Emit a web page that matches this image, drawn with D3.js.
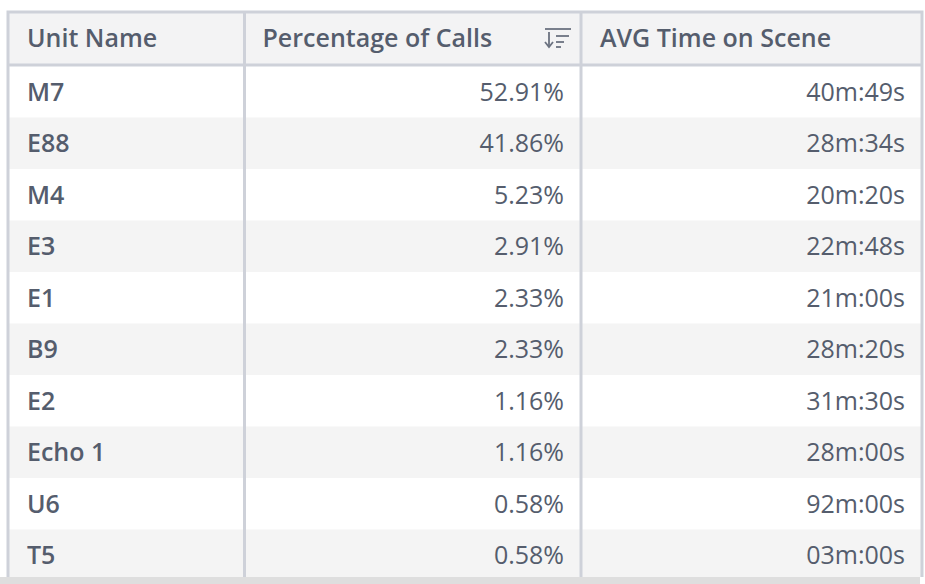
<!DOCTYPE html>
<html><head><meta charset="utf-8">
<script src="https://cdn.jsdelivr.net/npm/d3@7"></script>
<style>html,body{margin:0;padding:0;background:#fff;overflow:hidden}</style>
</head><body>
<svg id="c" width="925" height="584"></svg>
<script>
const headers = ["Unit Name", "Percentage of Calls", "AVG Time on Scene"];
const units = ["M7","E88","M4","E3","E1","B9","E2","Echo 1","U6","T5"];
const pctCalls = [52.91,41.86,5.23,2.91,2.33,2.33,1.16,1.16,0.58,0.58];
const avgTime = ["40m:49s","28m:34s","20m:20s","22m:48s","21m:00s","28m:20s","31m:30s","28m:00s","92m:00s","03m:00s"];

const svg = d3.select("#c");
const font = "'Open Sans', sans-serif";
const txt = "#555d6d";
const border = "#ced1d9";
const colX = d3.scaleOrdinal().domain([0,1,2,3]).range([8, 244.5, 581, 922]);
const tableTop = 12, headBottom = 65;
const y = d3.scaleBand().domain(d3.range(units.length)).range([headBottom + 1, headBottom + 1 + 51.5 * units.length]);

svg.append("defs").append("clipPath").attr("id","clip")
  .append("rect").attr("x",0).attr("y",0).attr("width",925).attr("height",577);
const g = svg.append("g").attr("clip-path","url(#clip)");

// header bg
g.append("rect").attr("x", colX(0)).attr("y", tableTop).attr("width", colX(3)-colX(0)).attr("height", headBottom-tableTop).attr("fill","#f3f3f4");
// row backgrounds
g.selectAll("rect.row").data(units).join("rect").attr("class","row")
  .attr("x", colX(0)).attr("y", (d,i)=>y(i)).attr("width", colX(3)-colX(0)).attr("height", y.bandwidth())
  .attr("fill", (d,i)=> i%2 ? "#f4f4f4" : "#ffffff");

// header texts
const hx = [colX(0)+19, colX(1)+18, colX(2)+19];
g.selectAll("text.h").data(headers).join("text").attr("class","h")
  .attr("x",(d,i)=>hx[i]).attr("y",(tableTop+headBottom)/2).attr("dy","0.35em")
  .attr("font-family",font).attr("font-weight",600).attr("font-size",25).attr("fill",txt).text(d=>d);

// sort icon
const ic = g.append("g").attr("transform","translate(545,29)").attr("stroke","#6b7280").attr("fill","none").attr("stroke-width",1.8);
ic.append("line").attr("x1",0).attr("y1",0).attr("x2",26).attr("y2",0);
ic.append("line").attr("x1",4).attr("y1",3).attr("x2",4).attr("y2",17);
ic.append("path").attr("d","M0,13 L4,18 L8,13");
ic.append("line").attr("x1",11).attr("y1",7).attr("x2",24).attr("y2",7);
ic.append("line").attr("x1",11).attr("y1",13).attr("x2",19).attr("y2",13);
ic.append("line").attr("x1",11).attr("y1",18).attr("x2",16).attr("y2",18);

// cells
const cy = i => y(i) + y.bandwidth()/2;
g.selectAll("text.u").data(units).join("text").attr("class","u")
  .attr("x", colX(0)+19).attr("y",(d,i)=>cy(i)).attr("dy","0.35em")
  .attr("font-family",font).attr("font-weight",600).attr("font-size",25).attr("fill",txt).text(d=>d);
g.selectAll("text.p").data(pctCalls).join("text").attr("class","p")
  .attr("x", colX(2)-17).attr("y",(d,i)=>cy(i)).attr("dy","0.35em").attr("text-anchor","end")
  .attr("font-family",font).attr("font-size",25).attr("fill",txt).text(d=>d3.format(".2f")(d)+"%");
g.selectAll("text.t").data(avgTime).join("text").attr("class","t")
  .attr("x", colX(3)-17).attr("y",(d,i)=>cy(i)).attr("dy","0.35em").attr("text-anchor","end")
  .attr("font-family",font).attr("font-size",25).attr("fill",txt).text(d=>d);

// borders
const bottom = y.range()[1];
g.append("rect").attr("x",colX(0)).attr("y",tableTop).attr("width",colX(3)-colX(0)).attr("height",bottom-tableTop)
  .attr("fill","none").attr("stroke",border).attr("stroke-width",3);
g.append("line").attr("x1",colX(0)).attr("x2",colX(3)).attr("y1",headBottom).attr("y2",headBottom).attr("stroke",border).attr("stroke-width",3);
[1,2].forEach(k=> g.append("line").attr("x1",colX(k)).attr("x2",colX(k)).attr("y1",tableTop).attr("y2",bottom).attr("stroke",border).attr("stroke-width",3));

// bottom scrollbar band
svg.append("rect").attr("x",0).attr("y",577).attr("width",920).attr("height",7).attr("fill","#dedede");
</script>
</body></html>
